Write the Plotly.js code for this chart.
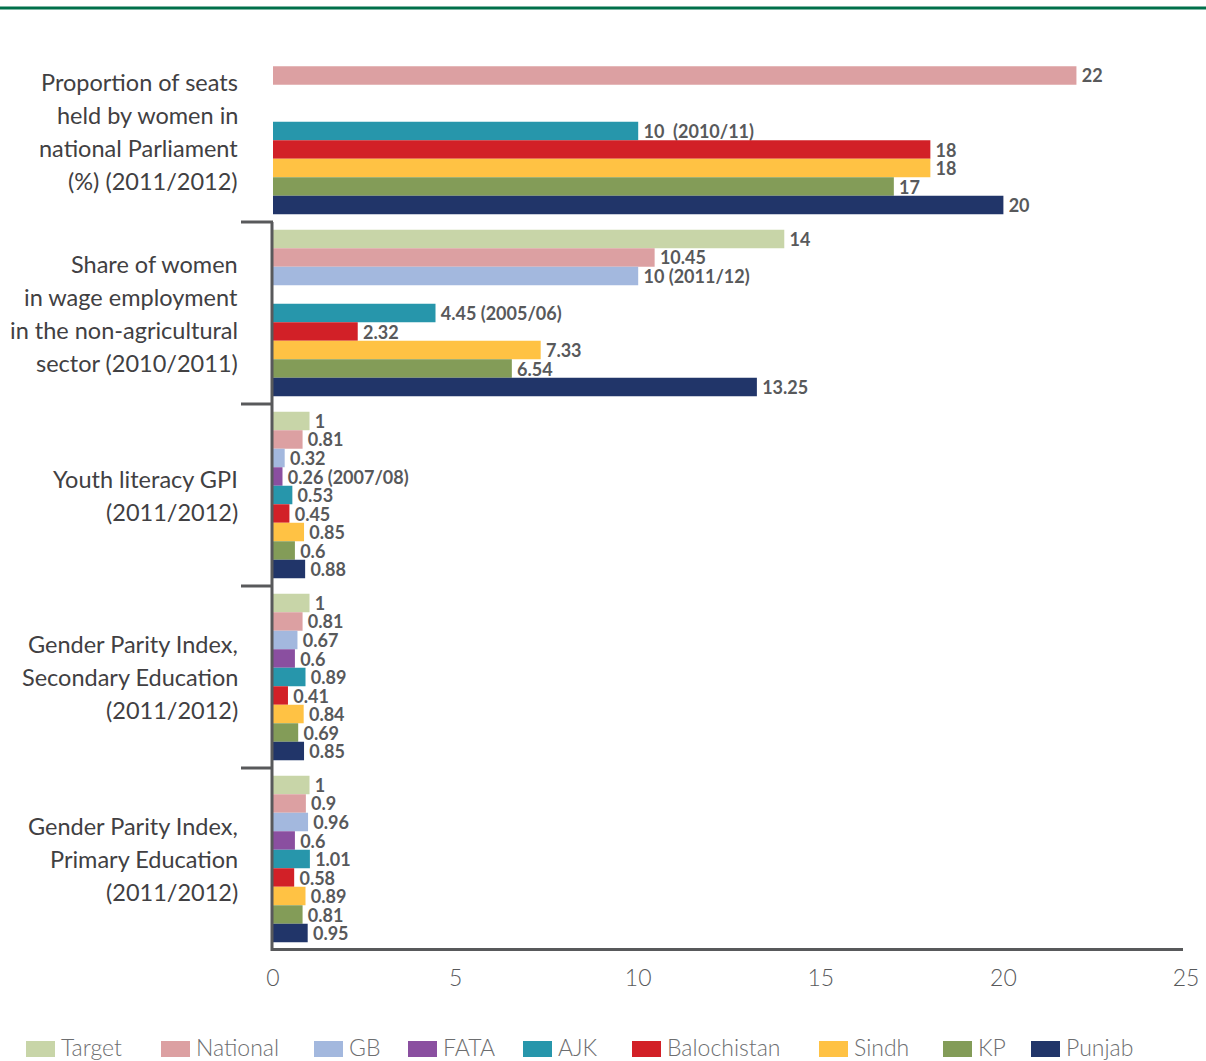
<!DOCTYPE html>
<html>
<head>
<meta charset="utf-8">
<script src="https://cdn.plot.ly/plotly-3.0.1.min.js"></script>
<style>
  html, body { margin: 0; padding: 0; background: #ffffff; }
  #chart { width: 1206px; height: 1061px; }
</style>
</head>
<body>
<div id="chart"></div>
<script>
// ---------------- DATA ----------------
const categories = [
  "Proportion of seats held by women in national Parliament (%) (2011/2012)",
  "Share of women in wage employment in the non-agricultural sector (2010/2011)",
  "Youth literacy GPI (2011/2012)",
  "Gender Parity Index, Secondary Education (2011/2012)",
  "Gender Parity Index, Primary Education (2011/2012)"
];
const categoryLabelLines = [
  ["Proportion of seats", "held by women in", "national Parliament", "(%) (2011/2012)"],
  ["Share of women", "in wage employment", "in the non-agricultural", "sector (2010/2011)"],
  ["Youth literacy GPI", "(2011/2012)"],
  ["Gender Parity Index,", "Secondary Education", "(2011/2012)"],
  ["Gender Parity Index,", "Primary Education", "(2011/2012)"]
];
const seriesNames = ["Target", "National", "GB", "FATA", "AJK", "Balochistan", "Sindh", "KP", "Punjab"];

const target      = [null, 14,    1,    1,    1];
const national    = [22,   10.45, 0.81, 0.81, 0.9];
const gb          = [null, 10,    0.32, 0.67, 0.96];
const fata        = [null, null,  0.26, 0.6,  0.6];
const ajk         = [10,   4.45,  0.53, 0.89, 1.01];
const balochistan = [18,   2.32,  0.45, 0.41, 0.58];
const sindh       = [18,   7.33,  0.85, 0.84, 0.89];
const kp          = [17,   6.54,  0.6,  0.69, 0.81];
const punjab      = [20,   13.25, 0.88, 0.85, 0.95];

const gbNotes   = ["", "(2011/12)", "", "", ""];
const fataNotes = ["", "", "(2007/08)", "", ""];
const ajkNotes  = ["\u00a0(2010/11)", "(2005/06)", "", "", ""];

const xTickValues = [0, 5, 10, 15, 20, 25];

const seriesValues = [target, national, gb, fata, ajk, balochistan, sindh, kp, punjab];
const seriesNotes  = [null, null, gbNotes, fataNotes, ajkNotes, null, null, null, null];

// ---------------- STYLE ----------------
const colors = ["#c8d5a8", "#dca0a2", "#a3b8de", "#8a4fa0", "#2796ab", "#d22027", "#ffc244", "#839c58", "#213569"];
const W = 1206, H = 1061;
const plotL = 273, plotR = 1186, plotT = 40, plotB = 950;
const px2x = p => (p - plotL) / (plotR - plotL);
const py2y = p => (plotB - p) / (plotB - plotT);
const axisGray = "#58595b";
const legendX = [26, 161, 314, 408, 523, 632, 819, 943, 1031];
const FONT = "Lato, 'Open Sans', sans-serif";
const LABEL_LINE = 33;

const traces = seriesNames.map((name, i) => {
  const vals = seriesValues[i];
  const notes = seriesNotes[i];
  const text = vals.map((v, j) => {
    if (v === null) return "";
    const n = notes && notes[j] ? " " + notes[j] : "";
    return "\u2009" + String(v) + n;
  });
  return {
    type: "bar",
    orientation: "h",
    name: name,
    y: categories,
    x: vals,
    text: text,
    textposition: "outside",
    constraintext: "none",
    cliponaxis: false,
    textfont: { family: FONT, size: 18, color: axisGray, weight: "bold" },
    marker: { color: colors[i], line: { width: 0 } },
    hoverinfo: "skip",
    showlegend: false
  };
});

const shapes = [];
const annotations = [];

// top green rule
shapes.push({ type: "line", xref: "paper", yref: "paper",
  x0: px2x(0), x1: px2x(W), y0: py2y(8), y1: py2y(8),
  line: { color: "#00704a", width: 3 } });

// x axis line
shapes.push({ type: "line", xref: "paper", yref: "paper",
  x0: px2x(271), x1: px2x(1183), y0: py2y(949.5), y1: py2y(949.5),
  line: { color: axisGray, width: 3 } });

// y axis line (starts at first boundary) and boundary ticks
shapes.push({ type: "line", xref: "paper", yref: "paper",
  x0: px2x(272), x1: px2x(272), y0: py2y(222), y1: py2y(951),
  line: { color: axisGray, width: 3 } });
[222, 404, 586, 768].forEach(py => {
  shapes.push({ type: "line", xref: "paper", yref: "paper",
    x0: px2x(241), x1: px2x(273), y0: py2y(py), y1: py2y(py),
    line: { color: axisGray, width: 3 } });
});

// category labels (one text per line, centred on each category band)
categories.forEach((cat, ci) => {
  const lines = categoryLabelLines[ci];
  lines.forEach((ln, li) => {
    annotations.push({ xref: "paper", yref: "y", x: px2x(240), y: cat,
      yshift: -(li - (lines.length - 1) / 2) * LABEL_LINE,
      xanchor: "right", yanchor: "middle", showarrow: false, text: ln,
      font: { family: FONT, size: 23.5, color: "#414042" } });
  });
});

// custom legend
seriesNames.forEach((name, i) => {
  const lx = legendX[i];
  shapes.push({ type: "rect", xref: "paper", yref: "paper",
    x0: px2x(lx), x1: px2x(lx + 29), y0: py2y(1057), y1: py2y(1041),
    fillcolor: colors[i], line: { width: 0 } });
  annotations.push({ xref: "paper", yref: "paper", x: px2x(lx + 33), y: py2y(1047),
    xanchor: "left", yanchor: "middle", showarrow: false, text: name,
    font: { family: FONT, size: 23, color: "#6d6e70", weight: 300 } });
});

const layout = {
  width: W, height: H,
  autosize: false,
  margin: { l: plotL, r: W - plotR, t: plotT, b: H - plotB, pad: 0 },
  paper_bgcolor: "#ffffff",
  plot_bgcolor: "#ffffff",
  barmode: "group",
  bargap: 0.085,
  bargroupgap: 0,
  showlegend: false,
  xaxis: {
    range: [0, 25],
    tickmode: "array",
    tickvals: xTickValues,
    ticktext: xTickValues.map(String),
    showgrid: false, zeroline: false,
    showline: false,
    ticks: "",
    ticklabelstandoff: 12,
    tickfont: { family: FONT, size: 23, color: "#58595b", weight: 300 },
    fixedrange: true
  },
  yaxis: {
    type: "category",
    categoryorder: "array",
    categoryarray: categories,
    autorange: "reversed",
    showticklabels: false,
    showgrid: false, zeroline: false, showline: false,
    ticks: "",
    fixedrange: true
  },
  shapes: shapes,
  annotations: annotations
};

Plotly.newPlot("chart", traces, layout, { displayModeBar: false, staticPlot: true });
</script>
</body>
</html>
